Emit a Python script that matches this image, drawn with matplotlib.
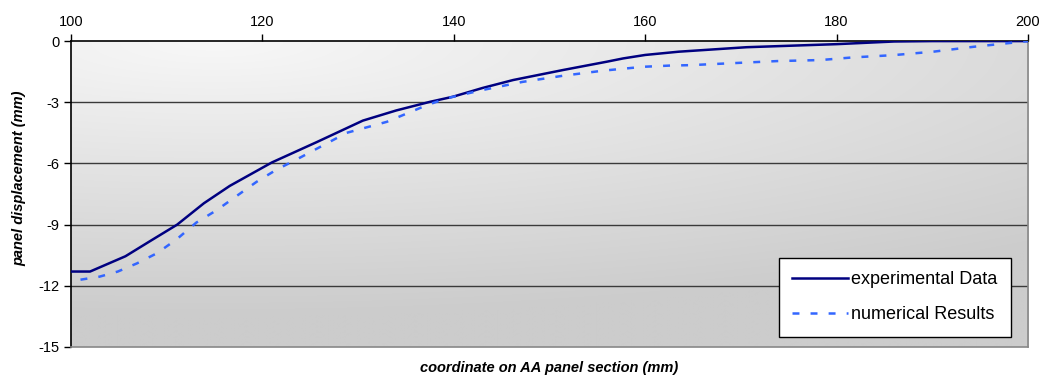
import matplotlib
matplotlib.use("Agg")
import matplotlib.pyplot as plt
import numpy as np

plt.rcParams['font.family'] = ['Liberation Sans', 'DejaVu Sans']
plt.rcParams['lines.scale_dashes'] = False
plt.rcParams['axes.unicode_minus'] = False

# experimental data (solid line)
exp_x = [100, 102, 105.7, 108.3, 111.1, 113.9, 116.6, 121.0, 125.7, 128.9,
         130.5, 134.0, 137.5, 139.9, 143.0, 146.2, 151.4, 156.0, 157.7,
         160.0, 163.5, 170.6, 180.0, 186.0, 190.0, 200]
exp_y = [-11.3, -11.3, -10.55, -9.8, -9.0, -7.95, -7.1, -5.95, -4.95, -4.25,
         -3.9, -3.4, -2.98, -2.73, -2.3, -1.91, -1.42, -1.01, -0.85,
         -0.68, -0.52, -0.3, -0.15, -0.02, 0.0, 0.0]

# numerical results (dashed line)
num_x = [101, 103, 104.9, 106.9, 109, 111.1, 113.1, 115.2, 117.3, 119.4,
         121.5, 123.6, 126, 128.8, 133, 137.2, 139.3, 143, 147.2, 151.4,
         155.6, 159.8, 162.6, 164.7, 173.8, 178.3, 181.7, 185.9, 190.1,
         194.3, 200]
num_y = [-11.7, -11.55, -11.3, -10.9, -10.4, -9.7, -8.9, -8.3, -7.6, -6.9,
         -6.3, -5.8, -5.2, -4.5, -3.96, -3.14, -2.8, -2.4, -2.0, -1.7,
         -1.45, -1.26, -1.2, -1.18, -0.98, -0.93, -0.8, -0.69, -0.52,
         -0.28, 0.0]

x_ticks = [100, 120, 140, 160, 180, 200]
y_ticks = [0, -3, -6, -9, -12, -15]

fig = plt.figure(figsize=(10.43, 3.77), dpi=100)
ax = fig.add_axes([0.068, 0.0796, 0.9176, 0.8114])

# gradient background, light at upper left, gray toward bottom/right
u, v = np.meshgrid(np.linspace(0, 1, 300), np.linspace(1, 0, 120))
d = np.sqrt(((u - 0.15) / 1.3) ** 2 + ((1 - v) / 0.9) ** 2)
g = 0.80 + 0.17 * np.clip(1 - d, 0, 1)
ax.imshow(np.dstack([g, g, g]), extent=[100, 200, -15, 0], aspect='auto',
          zorder=0, interpolation='bilinear')

ax.set_xlim(100, 200)
ax.set_ylim(-15, 0)
ax.set_xticks(x_ticks)
ax.set_yticks(y_ticks)
ax.xaxis.tick_top()
ax.tick_params(axis='both', labelsize=10.5, length=5, width=1, direction='out',
               colors='black')
ax.tick_params(axis='y', pad=3)

for yv in y_ticks[1:-1]:
    ax.axhline(yv, color='#3a3a3a', lw=1, zorder=1)

ax.spines['left'].set_color('black')
ax.spines['top'].set_color('black')
ax.spines['right'].set_color('#888888')
ax.spines['bottom'].set_color('#888888')
for s in ax.spines.values():
    s.set_linewidth(1.2)

ax.plot(exp_x, exp_y, color='#000080', lw=1.8, label='experimental Data', zorder=3)
ax.plot(num_x, num_y, color='#3366ff', lw=1.8, linestyle=(0, (5, 8)),
        label='numerical Results', zorder=3)

ax.set_xlabel('coordinate on AA panel section (mm)', fontsize=10.5,
              fontweight='bold', fontstyle='italic', labelpad=10)
ax.set_ylabel('panel displacement (mm)', fontsize=10.5, fontweight='bold',
              fontstyle='italic')
ax.yaxis.set_label_coords(-0.047, 0.552)

leg = ax.legend(loc='lower right', bbox_to_anchor=(0.982, 0.033), fontsize=13,
                frameon=True, fancybox=False, handlelength=3.1,
                handletextpad=0.15, labelspacing=1.0, borderpad=0.75,
                borderaxespad=0)
leg.get_frame().set_edgecolor('black')
leg.get_frame().set_linewidth(1)
leg.get_frame().set_alpha(1)

fig.savefig('out.png', dpi=100)
